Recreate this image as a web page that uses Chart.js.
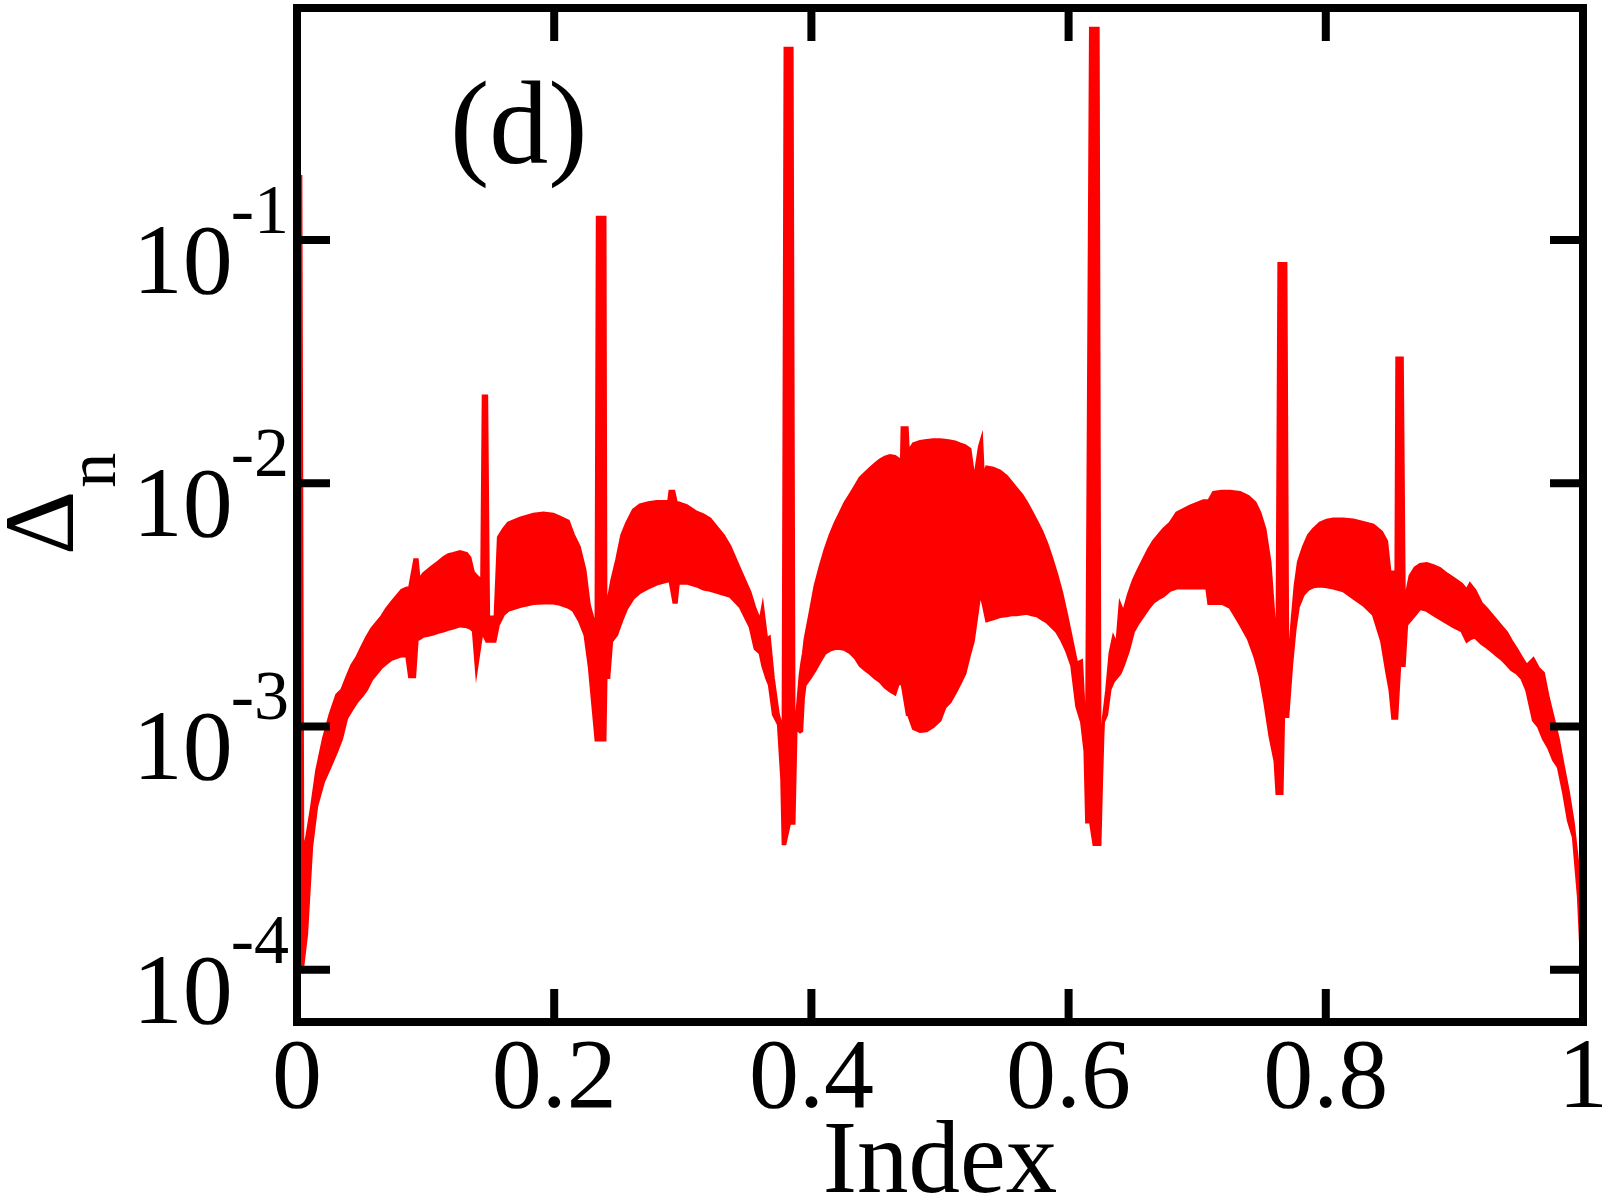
<!DOCTYPE html>
<html>
<head>
<meta charset="utf-8">
<title>Delta_n vs Index</title>
<script src="https://cdn.jsdelivr.net/npm/chart.js@4.4.1/dist/chart.umd.min.js"></script>
<style>
  html, body { margin: 0; padding: 0; background: #fff; }
  #chart { display: block; }
</style>
</head>
<body>
<canvas id="chart" width="1607" height="1196"></canvas>
<script>
// x positions (Index) where the envelope of the oscillating curve was read
const xs = [
  0.003, 0.0045, 0.0075, 0.0114, 0.0153, 0.0205, 0.0257, 0.0309, 0.0347, 0.0386,
  0.0425, 0.0464, 0.0503, 0.0542, 0.058, 0.0619, 0.0658, 0.0697, 0.0736, 0.0775,
  0.0814, 0.0853, 0.0875, 0.0915, 0.0935, 0.095, 0.0982, 0.1021, 0.106, 0.1099,
  0.1138, 0.1177, 0.1216, 0.1268, 0.132, 0.1345, 0.1371, 0.1395, 0.1436, 0.1448,
  0.1475, 0.149, 0.154, 0.1566, 0.1605, 0.1643, 0.1734, 0.1838, 0.1916, 0.1993,
  0.2045, 0.211, 0.2149, 0.2195, 0.2239, 0.2273, 0.2325, 0.2335, 0.2395, 0.2403,
  0.2425, 0.2447, 0.2486, 0.2525, 0.2563, 0.2615, 0.2667, 0.2732, 0.2797, 0.289,
  0.29, 0.293, 0.295, 0.2965, 0.303, 0.3108, 0.316, 0.3212, 0.3264, 0.3316,
  0.3367, 0.3445, 0.3523, 0.3562, 0.3601, 0.3621, 0.3652, 0.3673, 0.3704, 0.3743,
  0.3769, 0.378, 0.3795, 0.383, 0.385, 0.3865, 0.3881, 0.3912, 0.3925, 0.3938,
  0.3951, 0.399, 0.4028, 0.4067, 0.4106, 0.4145, 0.4184, 0.4223, 0.4261, 0.43,
  0.4339, 0.4378, 0.4417, 0.4456, 0.4495, 0.4533, 0.4572, 0.4611, 0.465, 0.4676,
  0.47, 0.4705, 0.4745, 0.4754, 0.4793, 0.4845, 0.4896, 0.4948, 0.5, 0.5039,
  0.5078, 0.5117, 0.5156, 0.5194, 0.5233, 0.5259, 0.5272, 0.5306, 0.5324, 0.5337,
  0.5363, 0.5415, 0.5467, 0.5518, 0.5557, 0.5596, 0.5635, 0.5674, 0.5713, 0.5752,
  0.5791, 0.583, 0.5868, 0.5907, 0.5946, 0.5985, 0.6024, 0.6063, 0.6101, 0.6127,
  0.614, 0.617, 0.6197, 0.623, 0.6244, 0.6257, 0.627, 0.6296, 0.6322, 0.6348,
  0.6374, 0.64, 0.6426, 0.6465, 0.6504, 0.6542, 0.6581, 0.662, 0.6659, 0.6698,
  0.6737, 0.6789, 0.6841, 0.6944, 0.7048, 0.7074, 0.709, 0.7126, 0.719, 0.7255,
  0.7333, 0.7398, 0.745, 0.7488, 0.7527, 0.7566, 0.7605, 0.762, 0.7635, 0.766,
  0.7672, 0.769, 0.7705, 0.7735, 0.7761, 0.7787, 0.7826, 0.7865, 0.7903, 0.7955,
  0.8007, 0.8058, 0.8136, 0.8214, 0.8292, 0.837, 0.8434, 0.8473, 0.8499, 0.852,
  0.8545, 0.8552, 0.8575, 0.8595, 0.861, 0.8629, 0.8655, 0.8694, 0.8733, 0.8785,
  0.8837, 0.8888, 0.894, 0.8992, 0.9057, 0.9096, 0.9121, 0.916, 0.9212, 0.9251,
  0.929, 0.9329, 0.9368, 0.9407, 0.9445, 0.9484, 0.9523, 0.9562, 0.9614, 0.9653,
  0.9692, 0.9731, 0.977, 0.9808, 0.9847, 0.9886, 0.9925, 0.9964, 0.999
];

// upper envelope of Delta_n (peaks of the zig-zag, spikes included)
const upperEnv = [
  0.185, 3.0e-4, 3.5e-4, 4.7e-4, 6.6e-4, 8.9e-4, 1.12e-3, 1.35e-3, 1.41e-3, 1.59e-3,
  1.78e-3, 1.92e-3, 2.12e-3, 2.33e-3, 2.52e-3, 2.67e-3, 2.83e-3, 3.05e-3, 3.24e-3, 3.43e-3,
  3.63e-3, 3.71e-3, 3.71e-3, 4.85e-3, 4.85e-3, 4.0e-3, 4.24e-3, 4.41e-3, 4.58e-3, 4.75e-3,
  4.94e-3, 5.08e-3, 5.14e-3, 5.24e-3, 5.14e-3, 4.94e-3, 4.32e-3, 4.17e-3, 3.98e-3, 0.0228,
  0.0228, 2.82e-3, 2.82e-3, 6.0e-3, 6.47e-3, 6.86e-3, 7.18e-3, 7.46e-3, 7.55e-3, 7.46e-3,
  7.26e-3, 6.98e-3, 6.15e-3, 5.48e-3, 4.41e-3, 3.16e-3, 2.51e-3, 0.124, 0.124, 2.0e-3,
  3.43e-3, 3.98e-3, 4.85e-3, 6.11e-3, 6.86e-3, 7.76e-3, 8.15e-3, 8.32e-3, 8.41e-3, 8.41e-3,
  9.27e-3, 9.27e-3, 8.32e-3, 8.32e-3, 8.09e-3, 7.60e-3, 7.41e-3, 7.13e-3, 6.59e-3, 6.11e-3,
  5.5e-3, 4.41e-3, 3.56e-3, 3.05e-3, 2.72e-3, 3.11e-3, 2.29e-3, 2.33e-3, 1.58e-3, 1.12e-3,
  1.0e-3, 1.0e-3, 0.614, 0.614, 0.614, 1.04e-3, 1.04e-3, 1.62e-3, 1.82e-3, 2.0e-3,
  2.29e-3, 2.94e-3, 3.78e-3, 4.53e-3, 5.33e-3, 6.11e-3, 6.86e-3, 7.55e-3, 8.32e-3, 8.97e-3,
  9.7e-3, 0.0105, 0.011, 0.0115, 0.012, 0.01245, 0.0128, 0.013, 0.0129, 0.0126,
  0.01245, 0.0169, 0.0169, 0.01346, 0.01452, 0.01483, 0.015, 0.0151, 0.0151, 0.01503,
  0.01493, 0.01479, 0.01452, 0.01429, 0.0138, 0.011, 0.0107, 0.0141, 0.0152, 0.01067,
  0.01167, 0.01153, 0.01122, 0.01067, 0.01007, 9.5e-3, 8.97e-3, 8.32e-3, 7.64e-3, 6.98e-3,
  6.35e-3, 5.66e-3, 4.94e-3, 4.24e-3, 3.56e-3, 2.88e-3, 2.29e-3, 1.82e-3, 1.86e-3, 1.0e-3,
  1.0e-3, 0.741, 0.741, 0.741, 8.2e-4, 8.2e-4, 1.08e-3, 1.41e-3, 2.0e-3, 2.33e-3,
  2.16e-3, 3.18e-3, 2.94e-3, 3.49e-3, 4.0e-3, 4.41e-3, 4.85e-3, 5.33e-3, 5.77e-3, 6.11e-3,
  6.47e-3, 6.86e-3, 7.55e-3, 8.05e-3, 8.47e-3, 8.47e-3, 8.47e-3, 9.16e-3, 9.27e-3, 9.27e-3,
  9.16e-3, 8.81e-3, 8.32e-3, 7.55e-3, 6.47e-3, 4.75e-3, 2.47e-3, 2.0e-3, 0.08, 0.08,
  0.08, 0.08, 1.58e-3, 2.62e-3, 3.78e-3, 4.75e-3, 5.48e-3, 6.11e-3, 6.47e-3, 6.86e-3,
  7.05e-3, 7.13e-3, 7.13e-3, 7.06e-3, 6.9e-3, 6.73e-3, 6.31e-3, 5.77e-3, 4.32e-3, 4.32e-3,
  4.32e-3, 0.0327, 0.0327, 0.0327, 3.43e-3, 3.55e-3, 4.16e-3, 4.49e-3, 4.63e-3, 4.67e-3,
  4.58e-3, 4.46e-3, 4.24e-3, 4.07e-3, 3.85e-3, 3.63e-3, 3.85e-3, 3.63e-3, 3.2e-3, 3.05e-3,
  2.88e-3, 2.72e-3, 2.57e-3, 2.43e-3, 2.24e-3, 2.08e-3, 1.92e-3, 1.78e-3, 1.9e-3, 1.74e-3,
  1.66e-3, 1.31e-3, 1.08e-3, 8.9e-4, 6.9e-4, 5.4e-4, 4.0e-4, 2.6e-4, 1.12e-4
];

// lower envelope of Delta_n (troughs of the zig-zag, dips included)
const lowerEnv = [
  1.0e-4, 1.03e-4, 1.4e-4, 3.2e-4, 4.7e-4, 5.9e-4, 6.8e-4, 7.9e-4, 8.9e-4, 1.08e-3,
  1.17e-3, 1.26e-3, 1.33e-3, 1.42e-3, 1.56e-3, 1.65e-3, 1.75e-3, 1.82e-3, 1.89e-3, 1.92e-3,
  1.95e-3, 1.95e-3, 1.60e-3, 1.60e-3, 2.29e-3, 2.29e-3, 2.35e-3, 2.37e-3, 2.40e-3, 2.44e-3,
  2.47e-3, 2.51e-3, 2.54e-3, 2.59e-3, 2.57e-3, 2.54e-3, 2.47e-3, 1.71e-3, 2.40e-3, 2.40e-3,
  2.24e-3, 2.24e-3, 2.24e-3, 2.62e-3, 2.88e-3, 3.0e-3, 3.11e-3, 3.2e-3, 3.22e-3, 3.22e-3,
  3.18e-3, 3.09e-3, 3.0e-3, 2.72e-3, 2.38e-3, 1.75e-3, 8.8e-4, 8.8e-4, 8.8e-4, 1.59e-3,
  1.59e-3, 2.24e-3, 2.38e-3, 2.72e-3, 3.05e-3, 3.37e-3, 3.56e-3, 3.71e-3, 3.85e-3, 3.97e-3,
  3.97e-3, 3.24e-3, 3.24e-3, 3.88e-3, 3.89e-3, 3.78e-3, 3.67e-3, 3.63e-3, 3.56e-3, 3.49e-3,
  3.43e-3, 3.11e-3, 2.57e-3, 2.09e-3, 2.0e-3, 1.78e-3, 1.58e-3, 1.48e-3, 1.12e-3, 1.02e-3,
  6.1e-4, 3.3e-4, 3.3e-4, 4.0e-4, 4.0e-4, 4.0e-4, 9.8e-4, 9.5e-4, 9.6e-4, 1.31e-3,
  1.48e-3, 1.58e-3, 1.70e-3, 1.85e-3, 2.0e-3, 2.06e-3, 2.09e-3, 2.09e-3, 2.07e-3, 2.01e-3,
  1.92e-3, 1.78e-3, 1.71e-3, 1.65e-3, 1.58e-3, 1.53e-3, 1.45e-3, 1.40e-3, 1.36e-3, 1.5e-3,
  1.5e-3, 1.5e-3, 1.12e-3, 1.12e-3, 9.8e-4, 9.55e-4, 9.6e-4, 1.0e-3, 1.06e-3, 1.2e-3,
  1.26e-3, 1.37e-3, 1.5e-3, 1.65e-3, 2.0e-3, 2.24e-3, 2.51e-3, 3.37e-3, 3.37e-3, 3.16e-3,
  2.72e-3, 2.77e-3, 2.83e-3, 2.85e-3, 2.88e-3, 2.88e-3, 2.9e-3, 2.92e-3, 2.88e-3, 2.85e-3,
  2.77e-3, 2.69e-3, 2.57e-3, 2.45e-3, 2.26e-3, 2.04e-3, 1.78e-3, 1.21e-3, 1.04e-3, 7.9e-4,
  4.05e-4, 4.05e-4, 3.27e-4, 3.27e-4, 3.27e-4, 6.1e-4, 1.04e-3, 1.12e-3, 1.42e-3, 1.53e-3,
  1.59e-3, 1.65e-3, 1.78e-3, 2.04e-3, 2.45e-3, 2.66e-3, 2.85e-3, 3.05e-3, 3.24e-3, 3.35e-3,
  3.44e-3, 3.63e-3, 3.71e-3, 3.71e-3, 3.71e-3, 3.71e-3, 3.2e-3, 3.2e-3, 3.21e-3, 3.09e-3,
  2.64e-3, 2.29e-3, 1.92e-3, 1.62e-3, 1.24e-3, 9.1e-4, 7.2e-4, 5.3e-4, 5.3e-4, 5.3e-4,
  1.1e-3, 1.1e-3, 1.1e-3, 1.8e-3, 2.51e-3, 3.11e-3, 3.49e-3, 3.67e-3, 3.75e-3, 3.78e-3,
  3.75e-3, 3.71e-3, 3.61e-3, 3.37e-3, 3.16e-3, 2.88e-3, 2.24e-3, 1.68e-3, 1.41e-3, 1.08e-3,
  1.08e-3, 1.08e-3, 1.78e-3, 1.78e-3, 1.78e-3, 2.62e-3, 2.72e-3, 2.88e-3, 3.05e-3, 3.0e-3,
  2.88e-3, 2.77e-3, 2.67e-3, 2.57e-3, 2.47e-3, 2.24e-3, 2.29e-3, 2.33e-3, 2.19e-3, 2.12e-3,
  2.04e-3, 1.96e-3, 1.89e-3, 1.8e-3, 1.71e-3, 1.66e-3, 1.58e-3, 1.41e-3, 1.06e-3, 1.0e-3,
  8.9e-4, 8.2e-4, 7.3e-4, 6.8e-4, 5.4e-4, 4.1e-4, 3.5e-4, 2.0e-4, 1.0e-4
];

const xTicks = [0, 0.2, 0.4, 0.6, 0.8, 1];
const xTickLabels = ['0', '0.2', '0.4', '0.6', '0.8', '1'];
const yTicks = [1e-4, 1e-3, 1e-2, 1e-1];
const yTickExponents = ['-4', '-3', '-2', '-1'];
const xTitle = 'Index';
const yTitleMain = '\u0394';
const yTitleSub = 'n';
const panelLabel = '(d)';

const SERIF = '"Liberation Serif", "Times New Roman", Times, serif';
const RED = '#ff0000';

function toPoints(vals) {
    return xs.map((x, i) => ({ x: x, y: vals[i] }));
}

// frame, inward ticks and all the text, placed through the chart's scales
const framePlugin = {
    id: 'frame',
    afterDraw(chart) {
        const ctx = chart.ctx;
        const a = chart.chartArea;
        const sx = chart.scales.x;
        const sy = chart.scales.y;
        const tickLen = 33;

        ctx.save();
        ctx.strokeStyle = '#000';
        ctx.lineWidth = 8;
        ctx.strokeRect(a.left, a.top, a.right - a.left, a.bottom - a.top);

        ctx.beginPath();
        xTicks.forEach(v => {
            if (v <= 0 || v >= 1) return;
            const px = sx.getPixelForValue(v);
            ctx.moveTo(px, a.bottom); ctx.lineTo(px, a.bottom - tickLen);
            ctx.moveTo(px, a.top); ctx.lineTo(px, a.top + tickLen);
        });
        yTicks.forEach(v => {
            const py = sy.getPixelForValue(v);
            ctx.moveTo(a.left, py); ctx.lineTo(a.left + tickLen, py);
            ctx.moveTo(a.right, py); ctx.lineTo(a.right - tickLen, py);
        });
        ctx.stroke();

        ctx.fillStyle = '#000';
        ctx.textBaseline = 'alphabetic';

        // x tick labels
        ctx.font = '100px ' + SERIF;
        ctx.textAlign = 'center';
        xTicks.forEach((v, i) => {
            ctx.fillText(xTickLabels[i], sx.getPixelForValue(v), a.bottom + 85);
        });

        // y tick labels: 10 with a raised exponent
        const rightEdge = a.left - 8;
        yTicks.forEach((v, i) => {
            const py = sy.getPixelForValue(v);
            ctx.font = '70px ' + SERIF;
            ctx.textAlign = 'right';
            const ew = ctx.measureText(yTickExponents[i]).width;
            ctx.fillText(yTickExponents[i], rightEdge, py - 7);
            ctx.font = '100px ' + SERIF;
            ctx.fillText('10', rightEdge - ew + 2, py + 53);
        });

        // x axis title
        ctx.font = '103px ' + SERIF;
        ctx.textAlign = 'center';
        ctx.fillText(xTitle, (a.left + a.right) / 2, a.bottom + 170);

        // panel label
        ctx.font = '118px ' + SERIF;
        ctx.textAlign = 'left';
        ctx.fillText(panelLabel, a.left + 153, a.top + 155);

        // y axis title, rotated, with subscript
        ctx.translate(73, 555);
        ctx.rotate(-Math.PI / 2);
        ctx.font = '100px ' + SERIF;
        ctx.textAlign = 'left';
        ctx.fillText(yTitleMain, 0, 0);
        const dw = ctx.measureText(yTitleMain).width;
        ctx.font = '70px ' + SERIF;
        ctx.fillText(yTitleSub, dw + 3, 42);
        ctx.restore();
    }
};

const ctx = document.getElementById('chart').getContext('2d');
new Chart(ctx, {
    type: 'line',
    data: {
        datasets: [
            {
                label: 'upper',
                data: toPoints(upperEnv),
                borderColor: RED,
                backgroundColor: RED,
                borderWidth: 3,
                pointRadius: 0,
                tension: 0,
                fill: '+1'
            },
            {
                label: 'lower',
                data: toPoints(lowerEnv),
                borderColor: RED,
                backgroundColor: RED,
                borderWidth: 3,
                pointRadius: 0,
                tension: 0,
                fill: false
            }
        ]
    },
    options: {
        responsive: false,
        animation: false,
        layout: { padding: { left: 297, right: 24, top: 8, bottom: 174 } },
        plugins: {
            legend: { display: false },
            tooltip: { enabled: false }
        },
        scales: {
            x: { type: 'linear', min: 0, max: 1, display: false },
            y: { type: 'logarithmic', min: 6.1e-5, max: 0.898, display: false }
        }
    },
    plugins: [framePlugin]
});
</script>
</body>
</html>
